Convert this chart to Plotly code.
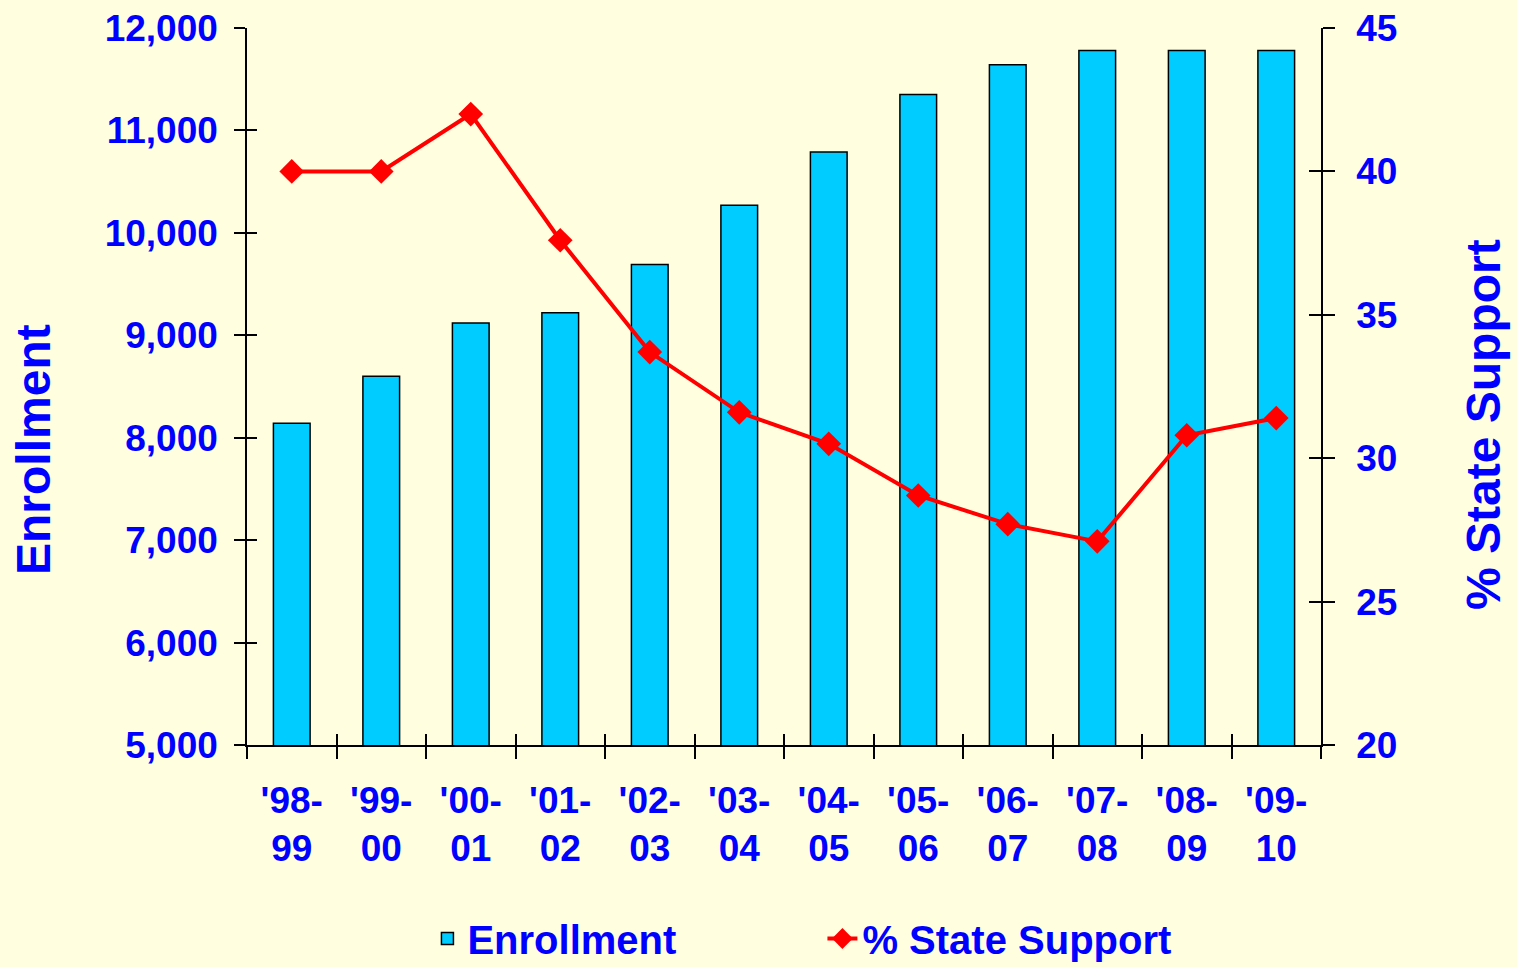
import plotly.graph_objects as go

years = ["'98-<br>99", "'99-<br>00", "'00-<br>01", "'01-<br>02", "'02-<br>03", "'03-<br>04",
         "'04-<br>05", "'05-<br>06", "'06-<br>07", "'07-<br>08", "'08-<br>09", "'09-<br>10"]
enrollment = [8140, 8600, 9120, 9220, 9690, 10270, 10790, 11350, 11640, 11780, 11780, 11780]
state_support = [40.0, 40.0, 42.0, 37.6, 33.7, 31.6, 30.5, 28.7, 27.7, 27.1, 30.8, 31.4]

BLUE = "#0000FF"
BG = "#FFFFE0"
FONT = "Liberation Sans, Arial, sans-serif"

fig = go.Figure()
fig.add_trace(go.Bar(
    x=years, y=enrollment, name="Enrollment",
    marker=dict(color="#00CCFF", line=dict(color="black", width=1.5)),
    width=0.41, yaxis="y",
))
fig.add_trace(go.Scatter(
    x=years, y=state_support, name="% State Support", yaxis="y2",
    mode="lines+markers",
    line=dict(color="#FF0000", width=4),
    marker=dict(symbol="diamond", size=19, color="#FF0000"),
))

n = len(years)
bounds = [i - 0.5 for i in range(n + 1)]

# invisible helper traces so the inside-tick overlay axes get drawn
fig.add_trace(go.Scatter(x=[0], y=[enrollment[0]], xaxis="x2", yaxis="y3", mode="markers",
                         marker=dict(opacity=0), showlegend=False, hoverinfo="skip"))
fig.add_trace(go.Scatter(x=[0], y=[state_support[0]], xaxis="x2", yaxis="y4", mode="markers",
                         marker=dict(opacity=0), showlegend=False, hoverinfo="skip"))

fig.update_layout(
    template="none",
    width=1517, height=967,
    paper_bgcolor=BG, plot_bgcolor=BG,
    margin=dict(l=247, r=196, t=28, b=222, autoexpand=False),
    font=dict(family=FONT, color=BLUE, size=35, weight="bold"),
    showlegend=True,
    bargap=0.59,
    xaxis=dict(
        type="category", tickson="boundaries", ticks="outside", ticklen=12,
        tickwidth=1.5, tickcolor="black", automargin=False,
        showline=True, linecolor="black", linewidth=1.5, showgrid=False,
        tickfont=dict(size=37, color=BLUE, family=FONT, weight="bold"),
        ticklabelstandoff=22,
        range=[-0.5, n - 0.5],
    ),
    xaxis2=dict(
        overlaying="x", anchor="y", side="bottom", type="linear", automargin=False,
        range=[-0.5, n - 0.5], tickmode="array", tickvals=bounds,
        ticks="inside", ticklen=11, tickwidth=1.5, tickcolor="black",
        showticklabels=False, showgrid=False, showline=False, zeroline=False,
    ),
    yaxis=dict(
        range=[5000, 12000], dtick=1000, tickformat=",d", automargin=False,
        ticks="outside", ticklen=11, tickwidth=1.5, tickcolor="black",
        showline=True, linecolor="black", linewidth=1.5, showgrid=False, zeroline=False,
        tickfont=dict(size=37, color=BLUE, family=FONT, weight="bold"),
        ticklabelstandoff=9,
    ),
    yaxis3=dict(
        overlaying="y", anchor="x", side="left", automargin=False,
        range=[5000, 12000], dtick=1000,
        ticks="inside", ticklen=10, tickwidth=1.5, tickcolor="black",
        showticklabels=False, showgrid=False, showline=False, zeroline=False,
    ),
    yaxis2=dict(
        overlaying="y", side="right", anchor="x", automargin=False,
        range=[20, 45], dtick=5,
        ticks="outside", ticklen=12, tickwidth=1.5, tickcolor="black",
        showline=True, linecolor="black", linewidth=1.5, showgrid=False, zeroline=False,
        tickfont=dict(size=37, color=BLUE, family=FONT, weight="bold"),
        ticklabelstandoff=14,
    ),
    yaxis4=dict(
        overlaying="y", side="right", anchor="x", automargin=False,
        range=[20, 45], dtick=5,
        ticks="inside", ticklen=12, tickwidth=1.5, tickcolor="black",
        showticklabels=False, showgrid=False, showline=False, zeroline=False,
    ),
    legend=dict(
        orientation="h", x=0.168, xanchor="left", y=-226 / 717, yanchor="bottom",
        font=dict(size=40, color=BLUE, family=FONT, weight="bold"),
        bgcolor="rgba(0,0,0,0)", entrywidth=350, entrywidthmode="pixels",
    ),
    annotations=[
        dict(text="Enrollment", textangle=-90, xref="paper", yref="paper",
             x=(33 - 247) / 1074, y=(745 - 450) / 717, xanchor="center", yanchor="middle",
             showarrow=False, font=dict(size=48, color=BLUE, family=FONT, weight="bold")),
        dict(text="% State Support", textangle=-90, xref="paper", yref="paper",
             x=(1484 - 247) / 1074, y=(745 - 425) / 717, xanchor="center", yanchor="middle",
             showarrow=False, font=dict(size=48, color=BLUE, family=FONT, weight="bold")),
    ],
)

fig.write_html("out.html", config={"displayModeBar": False},
               post_script="document.body.style.margin='0';document.body.style.overflow='hidden';")
